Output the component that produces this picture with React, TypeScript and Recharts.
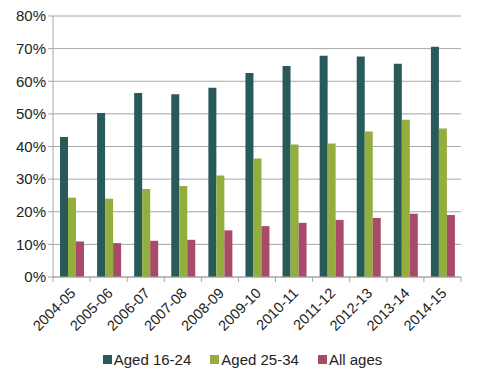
import { BarChart, Bar, XAxis, YAxis, CartesianGrid, Legend } from "recharts";

const YEARS = [
  "2004-05", "2005-06", "2006-07", "2007-08", "2008-09", "2009-10",
  "2010-11", "2011-12", "2012-13", "2013-14", "2014-15",
];
const AGED_16_24 = [42.9, 50.3, 56.4, 56.0, 58.0, 62.5, 64.7, 67.8, 67.6, 65.4, 70.6];
const AGED_25_34 = [24.3, 24.0, 27.0, 27.9, 31.1, 36.3, 40.6, 40.9, 44.6, 48.2, 45.5];
const ALL_AGES = [10.9, 10.4, 11.1, 11.4, 14.3, 15.6, 16.6, 17.5, 18.1, 19.4, 19.0];
const Y_TICKS = [0, 10, 20, 30, 40, 50, 60, 70, 80];

const data = YEARS.map((year, i) => ({
  year,
  a: AGED_16_24[i],
  b: AGED_25_34[i],
  c: ALL_AGES[i],
}));

const FONT = "'Liberation Sans', Arial, sans-serif";
const AXIS_GREY = "#a6a6a6";
const BAND = (461 - 53) / YEARS.length;

const YearTick = (props: any) => {
  const { x, y, payload, index } = props;
  return (
    <g>
      <line x1={x - BAND / 2} x2={x - BAND / 2} y1={y - 8} y2={y - 3} stroke={AXIS_GREY} />
      {index === YEARS.length - 1 && (
        <line x1={x + BAND / 2} x2={x + BAND / 2} y1={y - 8} y2={y - 3} stroke={AXIS_GREY} />
      )}
      <text
        x={x + 5}
        y={y + 9}
        textAnchor="end"
        fontSize={14.5}
        fill="#222"
        fontFamily={FONT}
        transform={`rotate(-45, ${x + 5}, ${y + 9})`}
      >
        {payload.value}
      </text>
    </g>
  );
};

const LegendContent = (props: any) => {
  const { payload } = props;
  return (
    <div
      style={{
        display: "flex",
        justifyContent: "center",
        gap: 19,
        fontFamily: FONT,
        fontSize: 15,
        color: "#222",
        lineHeight: "17px",
        paddingLeft: 24,
      }}
    >
      {payload.map((p: any) => (
        <div key={p.value} style={{ display: "flex", alignItems: "center" }}>
          <span style={{ width: 9, height: 9, background: p.color, marginRight: 2, display: "inline-block" }} />
          <span>{p.value}</span>
        </div>
      ))}
    </div>
  );
};

export default function App() {
  return (
    <div style={{ position: "absolute", left: 0, top: 0, width: 477, height: 383, background: "#fff" }}>
      <BarChart
        width={477}
        height={383}
        data={data}
        margin={{ top: 16, right: 16, left: 0, bottom: 15 }}
        barGap={0}
        barSize={8}
      >
        <CartesianGrid vertical={false} stroke={AXIS_GREY} />
        <XAxis
          dataKey="year"
          height={74}
          tick={<YearTick />}
          tickLine={false}
          axisLine={{ stroke: AXIS_GREY }}
          interval={0}
        />
        <YAxis
          width={53}
          domain={[0, 80]}
          ticks={Y_TICKS}
          tickFormatter={(v) => `${v}%`}
          tick={{ fontSize: 15, fill: "#222", fontFamily: FONT }}
          tickLine={{ stroke: AXIS_GREY }}
          tickSize={5}
          axisLine={{ stroke: AXIS_GREY }}
        />
        <Legend content={<LegendContent />} />
        <Bar dataKey="a" name="Aged 16-24" fill="#285a5a" isAnimationActive={false} />
        <Bar dataKey="b" name="Aged 25-34" fill="#93ae3c" isAnimationActive={false} />
        <Bar dataKey="c" name="All ages" fill="#a84a68" isAnimationActive={false} />
      </BarChart>
    </div>
  );
}
